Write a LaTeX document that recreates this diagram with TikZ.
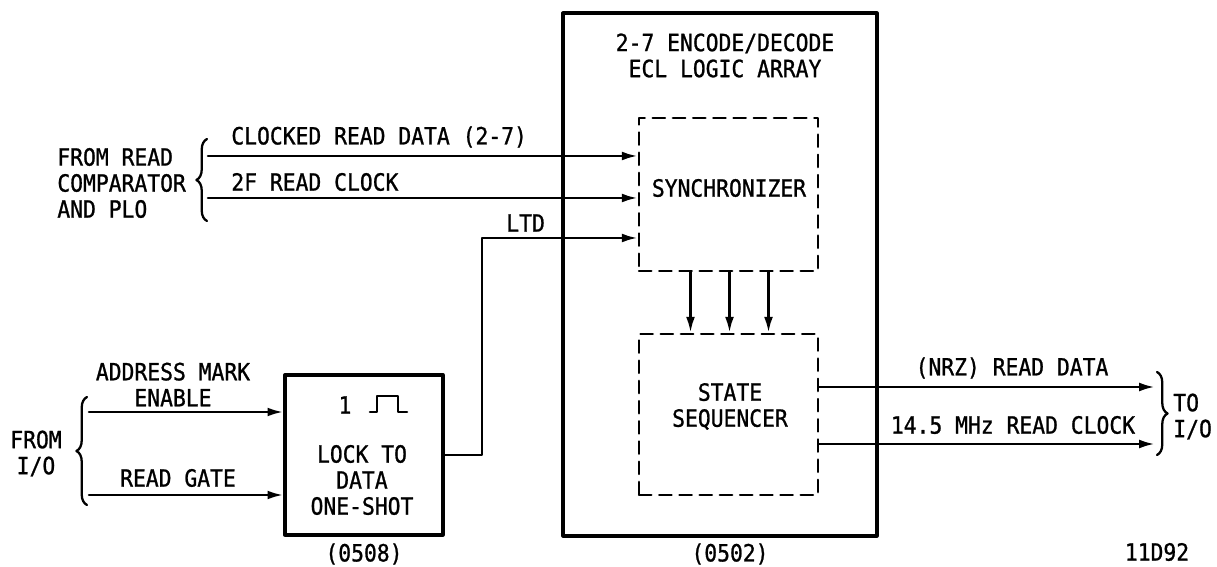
\documentclass[tikz,border=0pt]{standalone}
\usepackage{fontspec}
\usepackage{tikz}
\usetikzlibrary{arrows.meta,decorations.pathreplacing}
\newfontfamily\leroy[FakeStretch=0.9, FakeBold=1]{DejaVu Sans Mono}

\begin{document}
\begin{tikzpicture}[x=0.02cm, y=-0.02cm, line cap=round, line join=round,
  lbl/.style={font=\leroy\fontsize{13.5}{14.8}\selectfont, inner sep=0pt, align=center},
  wire/.style={line width=1.5pt},
  sig/.style={wire, -{Latex[length=9pt,width=5pt]}},
  sbox/.style={draw, line width=1.9pt, inner sep=0pt},
  dbox/.style={draw, line width=1.4pt, dash pattern=on 7pt off 4.5pt, inner sep=0pt},
  brc/.style={line width=1.3pt, decorate, decoration={brace, amplitude=6pt}}]
  \useasboundingbox (0,0) rectangle (1217,567);

  % ECL logic array
  \node[sbox, minimum width=6.28cm, minimum height=10.46cm] (arr) at (720,274.5) {};
  \node[lbl] (arrlbl) at (725,55.5) {2-7 ENCODE/DECODE\\ECL LOGIC ARRAY};
  \node[dbox, minimum width=3.58cm, minimum height=3.06cm] (sync) at (728.5,194.5) {};
  \node[lbl] (synclbl) at (729,188) {SYNCHRONIZER};
  \node[dbox, minimum width=3.58cm, minimum height=3.22cm] (seq) at (728.5,414.5) {};
  \node[lbl] (seqlbl) at (730,406.5) {STATE\\SEQUENCER};
  \node[lbl] (arrno) at (730,554) {(0502)};

  % lock to data one-shot
  \node[sbox, minimum width=3.16cm, minimum height=3.2cm] (os) at (364,455) {};
  \node[lbl] (one) at (345,405) {1};
  \draw[wire] (370,412) -- ++(7,0) -- ++(0,-16) -- ++(21,0) -- ++(0,16) -- ++(9,0);
  \node[lbl] (oslbl) at (362,480) {LOCK TO\\DATA\\ONE-SHOT};
  \node[lbl] (osno) at (364,554) {(0508)};

  % inputs from read comparator
  \node[lbl, align=left, anchor=west] (src) at (57,183) {FROM READ\\COMPARATOR\\AND PLO};
  \draw[brc] (207,221) -- (207,139);
  \coordinate (in1) at (208,156);
  \coordinate (in2) at (208,198);
  \coordinate (ltd) at (482,238);
  \node[lbl, anchor=west] (crd) at (231,137) {CLOCKED READ DATA (2-7)};
  \node[lbl, anchor=west] (rclk) at (231,182) {2F READ CLOCK};
  \node[lbl, anchor=west] (ltdlbl) at (506,223) {LTD};
  \draw[sig] (in1) -- (in1 -| sync.west);
  \draw[sig] (in2) -- (in2 -| sync.west);
  \draw[sig] (os.east) -| (ltd) -- (ltd -| sync.west);

  % inputs from I/O
  \node[lbl] (fio) at (36,453.5) {FROM\\I/O};
  \draw[brc] (87,505) -- (87,397);
  \coordinate (in3) at (89,412);
  \coordinate (in4) at (89,495);
  \node[lbl] (ame) at (173,384.5) {ADDRESS MARK\\ENABLE};
  \node[lbl] (rgate) at (178,478) {READ GATE};
  \draw[sig] (in3) -- (in3 -| os.west);
  \draw[sig] (in4) -- (in4 -| os.west);

  % synchronizer to sequencer
  \foreach \dx in {-38,1,40}
    \draw[sig] ([xshift=\dx*0.02cm]sync.south) -- ([xshift=\dx*0.02cm]seq.north);

  % outputs to I/O
  \coordinate (out1) at (1155,387);
  \coordinate (out2) at (1155,444);
  \node[lbl] (nrz) at (1012,368) {(NRZ) READ DATA};
  \node[lbl] (oclk) at (1013,425) {14.5 MHz READ CLOCK};
  \draw[sig] (out1 -| seq.east) -- (out1);
  \draw[sig] (out2 -| seq.east) -- (out2);
  \draw[brc] (1157,372) -- (1157,455);
  \node[lbl, align=left, anchor=west] (tio) at (1173,416.5) {TO\\I/O};

  \node[lbl] (fig) at (1157,552) {11D92};
\end{tikzpicture}
\end{document}
